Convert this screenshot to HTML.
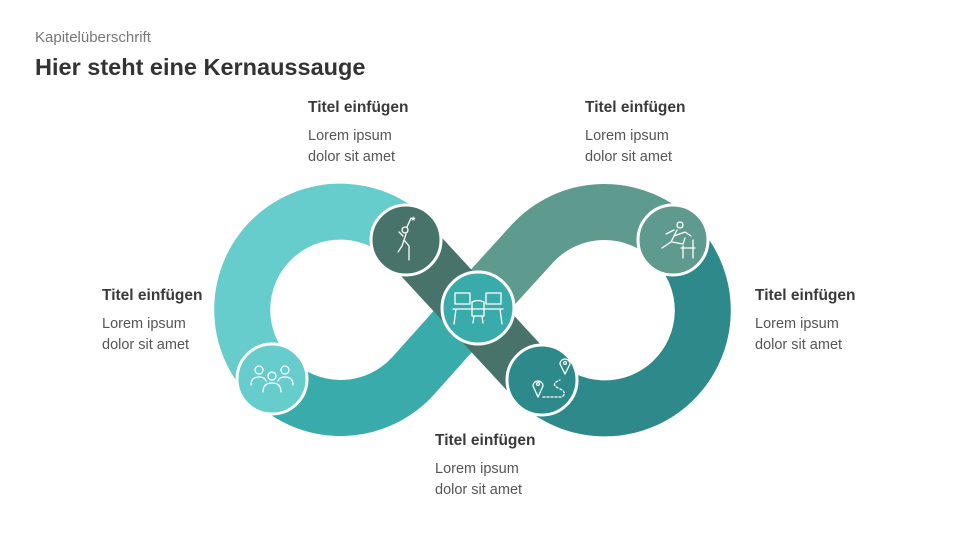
<!DOCTYPE html>
<html><head><meta charset="utf-8"><style>
body{margin:0;width:960px;height:540px;background:#fff;position:relative;overflow:hidden;font-family:"Liberation Sans",sans-serif;}
.t{position:absolute;white-space:nowrap}
.h{font-weight:bold;font-size:15.5px;color:#3a3a3a}
.b{font-size:14.5px;color:#555;line-height:21px}
</style></head><body>
<div class="t" style="left:35px;top:29px;font-size:15px;color:#777">Kapitelüberschrift</div>
<div class="t" style="left:35px;top:54px;font-size:23.5px;font-weight:bold;color:#333">Hier steht eine Kernaussauge</div>

<div class="t h" style="left:308px;top:99px">Titel einfügen</div>
<div class="t b" style="left:308px;top:126px">Lorem ipsum<br>dolor sit amet</div>
<div class="t h" style="left:585px;top:99px">Titel einfügen</div>
<div class="t b" style="left:585px;top:126px">Lorem ipsum<br>dolor sit amet</div>
<div class="t h" style="left:102px;top:287px">Titel einfügen</div>
<div class="t b" style="left:102px;top:314px">Lorem ipsum<br>dolor sit amet</div>
<div class="t h" style="left:755px;top:287px">Titel einfügen</div>
<div class="t b" style="left:755px;top:314px">Lorem ipsum<br>dolor sit amet</div>
<div class="t h" style="left:435px;top:432px">Titel einfügen</div>
<div class="t b" style="left:435px;top:459px">Lorem ipsum<br>dolor sit amet</div>

<svg width="960" height="540" style="position:absolute;left:0;top:0">
<g fill="none" stroke-width="56" stroke-linecap="butt">
<path d="M413,244 A98,98 0 1 0 271,379" stroke="#66CCCC"/>
<path d="M271,379 A98,98 0 0 0 413,376 L472,310" stroke="#3AABAB"/>
<path d="M472,310 L532,244 A98,98 0 0 1 674,241" stroke="#5F9A8E"/>
<path d="M674,241 A98,98 0 1 1 532,376" stroke="#2E8A8A"/>
<path d="M540,385 L404,238" stroke="#48736A"/>
</g>
<g stroke="#fff" stroke-width="3">
<circle cx="406" cy="240" r="35" fill="#48736A"/>
<circle cx="673" cy="240" r="35" fill="#5F9A8E"/>
<circle cx="272" cy="379" r="35" fill="#66CCCC"/>
<circle cx="542" cy="380" r="35" fill="#2E8A8A"/>
<circle cx="478" cy="308" r="36" fill="#3AABAB"/>
</g>
<g fill="none" stroke="#fff" stroke-width="1.3" stroke-linecap="round" stroke-linejoin="round">
<circle cx="405" cy="230" r="3"/><path d="M407,227 L411,218 M406,234 L402,246 L398,252 M404,240 L409,246 L409,260 M403,236 L399,232"/>
<text x="410" y="221" fill="#fff" stroke="none" font-size="7">★</text>
<circle cx="680" cy="225" r="3"/><path d="M677,230 L671,242 L662,248 M674,236 L685,232 L691,236 M672,242 L683,244 L685,238 M666,234 L674,230 M683,246 L683,258 M693,240 L693,258 M681,248 L695,248"/>
<circle cx="259" cy="370" r="4"/><circle cx="285" cy="370" r="4"/><circle cx="272" cy="376" r="4"/>
<path d="M251,385 Q251,377 259,377 Q265,377 266,381 M293,385 Q293,377 285,377 Q279,377 278,381 M263,392 Q263,383 272,383 Q281,383 281,392"/>
<path d="M538,397 L533,386 A5,5 0 1 1 543,386 Z M565,374 L560,364 A5,5 0 1 1 570,364 Z"/>
<circle cx="538" cy="384" r="1.5"/><circle cx="565" cy="363" r="1.5"/>
<path d="M543,397 L562,397 Q568,392 558,388 Q550,384 560,380" stroke-dasharray="2,2"/>
<rect x="455" y="293" width="15" height="11"/><rect x="486" y="293" width="15" height="11"/>
<path d="M453,309 L503,309 M456,309 L454,324 M500,309 L502,324 M472,302 Q478,299 484,302 L484,316 L472,316 Z M474,316 L473,323 M482,316 L483,323"/>
</g>
</svg>
</body></html>
